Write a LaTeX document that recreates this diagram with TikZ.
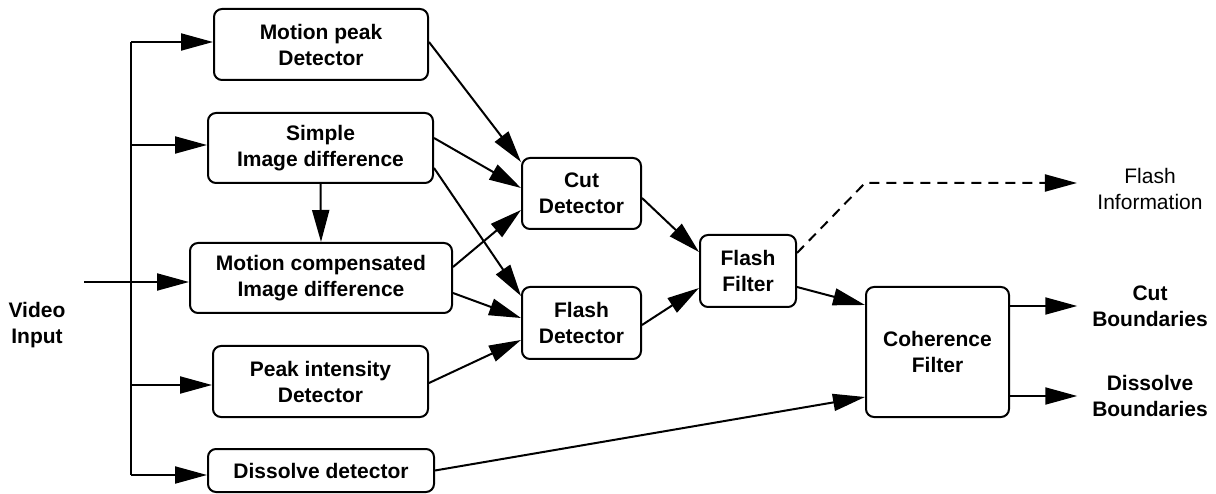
\documentclass[tikz,border=0pt]{standalone}
\usepackage{fontspec}
\setmainfont{Liberation Sans}
\usetikzlibrary{arrows.meta}
\begin{document}
\begin{tikzpicture}[x=1pt,y=-1pt,
  line width=2pt,
  block/.style={draw, rounded corners=8pt, align=center, inner sep=0pt,
    font=\fontsize{21}{26}\selectfont\bfseries},
  lbl/.style={align=center, inner sep=0pt, font=\fontsize{21}{26}\selectfont\bfseries},
  arr/.style={-{Triangle[length=32pt,width=17pt]}},
]
\useasboundingbox (0,0) rectangle (1216,494);

% processing blocks
\node[block, minimum width=214pt, minimum height=71pt] (mp)  at (321,44.5)  {Motion peak\\Detector};
\node[block, minimum width=225pt, minimum height=70pt] (sid) at (320.5,148) {Simple\\Image difference};
\node[block, minimum width=262pt, minimum height=70pt] (mc)  at (321,278)   {Motion compensated\\Image difference};
\node[block, minimum width=215pt, minimum height=71pt] (pk)  at (320.5,381.5) {Peak intensity\\Detector};
\node[block, minimum width=226pt, minimum height=43pt] (dd)  at (321,470.5) {Dissolve detector};
\node[block, minimum width=119pt, minimum height=71pt] (cut) at (581.5,193.5) {Cut\\Detector};
\node[block, minimum width=119pt, minimum height=72pt] (fd)  at (581.5,323) {Flash\\Detector};
\node[block, minimum width=96pt,  minimum height=72pt] (ff)  at (748,271)   {Flash\\Filter};
\node[block, minimum width=143pt, minimum height=130pt] (coh) at (937.5,352) {Coherence\\Filter};

% labels
\node[lbl] (vid) at (37,325) {Video\\Input};
\node[lbl, inner xsep=14pt] (cutb) at (1150,306) {Cut\\Boundaries};
\node[lbl, inner xsep=14pt] (disb) at (1150,396) {Dissolve\\Boundaries};
\node[align=center, inner sep=0pt, inner xsep=19.5pt, font=\fontsize{21}{26}\selectfont] (fi) at (1150,189) {Flash\\Information};

% input distribution bus
\coordinate (vin) at (84,282);
\coordinate (bustop) at (131,42);
\coordinate (busbot) at (131,475);
\coordinate (mpin)  at ([yshift=2.5pt]mp.west);
\coordinate (sidin) at ([yshift=3pt]sid.west);
\coordinate (mcin)  at ([yshift=-4pt]mc.west);
\coordinate (pkin)  at ([yshift=-3.5pt]pk.west);
\coordinate (ddin)  at ([yshift=-4.5pt]dd.west);

\draw (bustop) -- (busbot);
\draw[arr] (bustop) -- (mpin);
\draw[arr] (sidin -| bustop) -- (sidin);
\draw[arr] (vin) -- (mcin);
\draw[arr] (pkin -| bustop) -- (pkin);
\draw[arr] (busbot) -- (ddin);
\draw[arr] (sid.south) -- (mc.north);

% detector inputs
\draw[arr] ([yshift=2.5pt]mp.east) -- ([yshift=-5pt]cut.north west);
\draw[arr] ([yshift=10pt]sid.east) -- ([yshift=5.5pt]cut.west);
\draw[arr] ([yshift=-20pt]sid.east) -- ([yshift=-10pt]fd.north west);
\draw[arr] ([yshift=11pt]mc.east) -- ([yshift=-16.5pt]cut.west);
\draw[arr] ([yshift=-15pt]mc.east) -- ([yshift=5pt]fd.west);
\draw[arr] ([yshift=-1.5pt]pk.east) -- ([yshift=-17pt]fd.west);

% filtering stages
\draw[arr] ([yshift=-4.5pt]cut.east) -- ([yshift=19pt]ff.west);
\draw[arr] ([yshift=-2pt]fd.east) -- ([yshift=-17pt]ff.west);
\draw[arr] ([yshift=-16pt]ff.east) -- ([yshift=47pt]coh.west);
\draw[arr] (dd.east) -- ([yshift=-45pt]coh.west);

% flash side output
\coordinate (fibend) at (865,183);
\draw[arr, dash pattern=on 10pt off 7pt] ([yshift=18pt]ff.east) -- (fibend) -- ([yshift=6pt]fi.west);

% final outputs
\draw[arr] (cutb.west -| coh.east) -- (cutb.west);
\draw[arr] (disb.west -| coh.east) -- (disb.west);
\end{tikzpicture}
\end{document}
